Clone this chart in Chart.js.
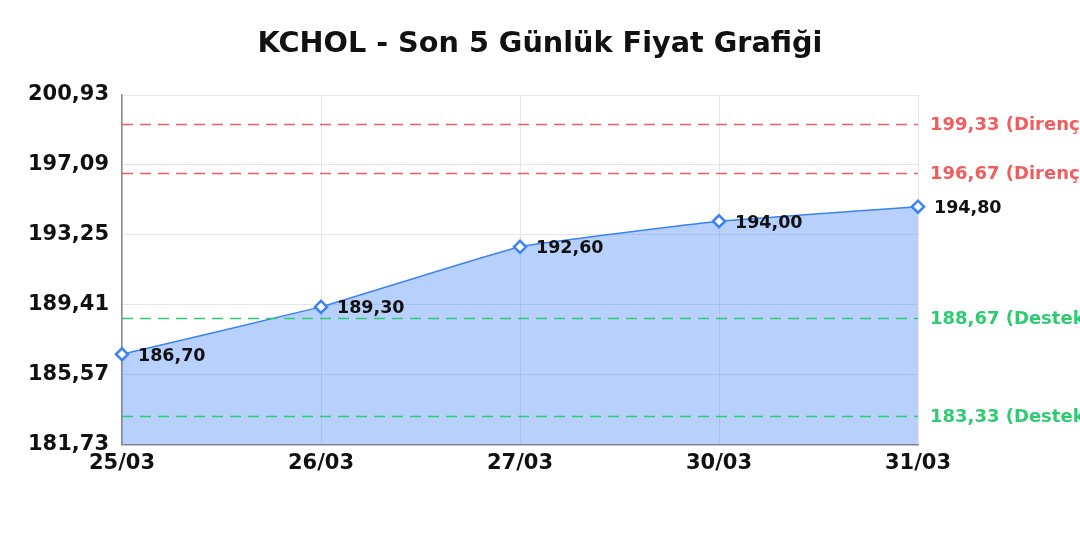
<!DOCTYPE html>
<html>
<head>
<meta charset="utf-8">
<script src="https://cdn.jsdelivr.net/npm/chart.js@4"></script>
<style>
  html, body { margin: 0; padding: 0; background: #fff; }
  #wrap { width: 1080px; height: 540px; }
</style>
</head>
<body>
<div id="wrap"><canvas id="price-chart"></canvas></div>
<script>
/* global Chart */

const title = 'KCHOL - Son 5 Günlük Fiyat Grafiği';
const days = ['25/03', '26/03', '27/03', '30/03', '31/03'];
const closes = [186.70, 189.30, 192.60, 194.00, 194.80];
const yTicks = [181.73, 185.57, 189.41, 193.25, 197.09, 200.93];
const levels = [199.33, 196.67, 188.67, 183.33];
const levelNames = ['Direnç', 'Direnç', 'Destek', 'Destek'];

const FONT = "'DejaVu Sans', sans-serif";

function fmt(v) {
  return v.toFixed(2).replace('.', ',');
}

// title centred on the whole canvas, not the plot
const pageTitle = {
  id: 'pageTitle',
  afterDraw(chart) {
    const ctx = chart.ctx;
    ctx.save();
    ctx.fillStyle = '#111';
    ctx.font = 'bold 28.7px ' + FONT;
    ctx.textAlign = 'center';
    ctx.textBaseline = 'middle';
    ctx.fillText(title, chart.width / 2, 45);
    ctx.restore();
  }
};

// dashed support / resistance lines with labels to the right
const levelLines = {
  id: 'levelLines',
  afterDatasetsDraw(chart) {
    const ctx = chart.ctx;
    const area = chart.chartArea;
    const y = chart.scales.y;
    ctx.save();
    levels.forEach(function(v, i) {
      const py = Math.round(y.getPixelForValue(v)) + 0.5;
      const color = levelNames[i] === 'Direnç' ? '#f25c5c' : '#2ecc71';
      ctx.strokeStyle = color;
      ctx.lineWidth = 1.4;
      ctx.setLineDash([11, 7]);
      ctx.beginPath();
      ctx.moveTo(area.left, py);
      ctx.lineTo(area.right, py);
      ctx.stroke();
      ctx.setLineDash([]);
      ctx.fillStyle = color;
      ctx.font = 'bold 18px ' + FONT;
      ctx.textAlign = 'left';
      ctx.textBaseline = 'middle';
      ctx.fillText(fmt(v) + ' (' + levelNames[i] + ')', area.right + 12, py + 1);
    });
    ctx.restore();
  }
};

// value labels next to each point
const pointLabels = {
  id: 'pointLabels',
  afterDatasetsDraw(chart) {
    const ctx = chart.ctx;
    const meta = chart.getDatasetMeta(0);
    ctx.save();
    ctx.fillStyle = '#111';
    ctx.font = 'bold 17.5px ' + FONT;
    ctx.textAlign = 'left';
    ctx.textBaseline = 'middle';
    meta.data.forEach(function(pt, i) {
      ctx.fillText(fmt(closes[i]), pt.x + 16, pt.y + 2);
    });
    ctx.restore();
  }
};

new Chart(document.getElementById('price-chart'), {
  type: 'line',
  data: {
    labels: days,
    datasets: [{
      label: 'KCHOL',
      data: closes,
      borderColor: '#3b82f6',
      borderWidth: 1.5,
      backgroundColor: 'rgba(59,130,246,0.37)',
      fill: 'start',
      tension: 0.1,
      pointStyle: 'rectRot',
      pointRadius: 6,
      pointBorderWidth: 2.5,
      pointBackgroundColor: '#fff',
      pointBorderColor: '#3b82f6',
    }],
  },
  options: {
    responsive: true,
    maintainAspectRatio: false,
    animation: false,
    layout: { padding: { left: 0, right: 162, top: 95, bottom: 58 } },
    scales: {
      x: {
        offset: false,
        grid: { color: '#e6e6e6', drawTicks: false },
        border: { color: '#888', width: 1.5 },
        ticks: { color: '#111', font: { family: FONT, size: 21, weight: 'bold' }, padding: 6, maxRotation: 0 },
      },
      y: {
        min: yTicks[0],
        max: yTicks[yTicks.length - 1],
        afterBuildTicks: function(scale) {
          scale.ticks = yTicks.map(function(v) { return { value: v }; });
        },
        afterFit: function(scale) { scale.width = 122; },
        grid: { color: '#e6e6e6', drawTicks: false },
        border: { color: '#888', width: 1.5 },
        ticks: {
          color: '#111',
          font: { family: FONT, size: 21, weight: 'bold' },
          padding: 13,
          callback: function(v) { return fmt(v); },
        },
      },
    },
    plugins: {
      legend: { display: false },
      tooltip: { enabled: false },
      title: { display: false },
    },
  },
  plugins: [pageTitle, levelLines, pointLabels],
});
</script>
</body>
</html>
